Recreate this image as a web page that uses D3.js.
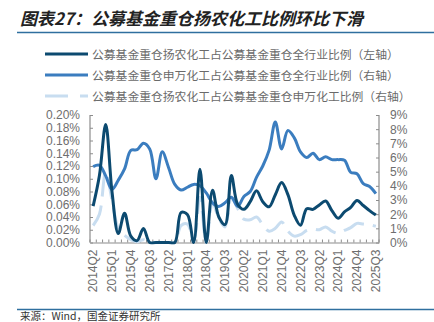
<!DOCTYPE html>
<html><head><meta charset="utf-8">
<script src="https://cdn.jsdelivr.net/npm/d3@7"></script>
<style>
html,body{margin:0;padding:0;background:#fff;}
svg{display:block;}
</style>
</head><body>
<svg id="c" width="434" height="322"></svg>
<script>
const quarters = [];
for (let y = 2014; y <= 2025; y++) for (let q = 1; q <= 4; q++) {
  if (y === 2014 && q < 2) continue;
  if (y === 2025 && q > 3) continue;
  quarters.push(y + "Q" + q);
}
const tickLabels = ["2014Q2","2015Q1","2015Q4","2016Q3","2017Q2","2018Q1","2018Q4","2019Q3","2020Q2","2021Q1","2021Q4","2022Q3","2023Q2","2024Q1","2024Q4","2025Q3"];
// 扬农化工占公募基金重仓全行业比例（左轴, %）
const yangnongAll = [0.057,0.105,0.185,0.080,0.014,0.046,0.010,0.003,0.022,0,0,0,0,0,0.047,0.044,0,0.115,0,0.082,0.040,0.028,0.105,0.060,0.052,0.064,0.081,0.064,0.056,0.075,0.094,0.075,0.043,0.027,0.053,0.052,0.059,0.065,0.050,0.038,0.048,0.055,0.066,0.058,0.050,0.043];
// 申万化工占公募基金重仓全行业比例（右轴, %）
const chemAll = [5.35,5.45,4.7,3.75,4.4,5.2,6.5,6.55,7.0,6.6,4.5,6.4,5.3,4.1,3.7,3.9,4.1,4.0,3.5,2.8,2.55,2.8,3.2,2.55,3.25,3.6,4.6,5.4,6.5,8.5,6.6,7.9,7.4,6.4,6.0,6.3,5.85,6.05,5.85,5.85,5.8,4.95,4.85,4.15,3.95,3.45];
// 扬农化工占公募基金重仓申万化工比例（右轴, %）
const yangnongChem = [1.2,2.0,5.0,3.0,1.0,0.5,0.2,0.05,0.2,0,0,0,0,0,1.2,1.3,0.1,3.2,0,2.8,1.7,1.1,3.2,2.4,1.65,1.6,1.8,1.25,0.8,1.0,1.45,0.8,0.45,0.55,0.85,0.95,0.9,1.1,0.8,0.65,0.85,1.05,1.35,1.3,1.25,1.15];
const leftTicks = [0,0.02,0.04,0.06,0.08,0.10,0.12,0.14,0.16,0.18,0.20];
const rightTicks = [0,1,2,3,4,5,6,7,8,9];
const legendNames = ["公募基金重仓扬农化工占公募基金重仓全行业比例（左轴）","公募基金重仓申万化工占公募基金重仓全行业比例（右轴）","公募基金重仓扬农化工占公募基金重仓申万化工比例（右轴）"];
const colors = ["#0c4a70","#3b7dbf","#c8ddf0"];

const svg = d3.select("#c");
const L = 90, R = 379, T = 115, B = 242.5;
const x = d3.scaleBand().domain(quarters).range([L, R]);
const xc = d => x(d) + x.bandwidth()/2;
const yl = d3.scaleLinear().domain([0,0.20]).range([B,T]);
const yr = d3.scaleLinear().domain([0,9]).range([B,T]);
const axisCol = "#8c8c8c", txtCol = "#6e6e6e";
const latin = "Arial, 'Liberation Sans', sans-serif";
const cjk = "'Noto Sans CJK SC', sans-serif";

// Title
svg.append("text").attr("x",20).attr("y",25).attr("font-family",cjk)
  .attr("font-size",17).attr("font-weight","bold").attr("font-style","italic").attr("fill","#222")
  .text("图表27：公募基金重仓扬农化工比例环比下滑");
svg.append("line").attr("x1",17).attr("x2",434).attr("y1",32.5).attr("y2",32.5).attr("stroke","#2f6f9f").attr("stroke-width",1.5);
svg.append("line").attr("x1",17).attr("x2",434).attr("y1",309.5).attr("y2",309.5).attr("stroke","#2f6f9f").attr("stroke-width",1.5);
svg.append("text").attr("x",20).attr("y",319.5).attr("font-family",cjk).attr("font-size",10.5).attr("fill","#333").text("来源：Wind，国金证券研究所");

// Legend
const legY = [54,75,96];
legendNames.forEach((n,i)=>{
  const g = svg.append("g");
  const ln = g.append("line").attr("x1",45).attr("x2",88).attr("y1",legY[i]).attr("y2",legY[i])
    .attr("stroke",colors[i]).attr("stroke-width",3);
  if (i===2) ln.attr("stroke-dasharray","23,12");
  g.append("text").attr("x",92).attr("y",legY[i]+4.5).attr("font-family",cjk).attr("font-size",11.8)
    .attr("fill","#6a6a6a").text(n);
});

// Axes
const gl = svg.append("g").attr("transform",`translate(${L},0)`)
  .call(d3.axisLeft(yl).tickValues(leftTicks).tickSize(-3).tickPadding(10).tickFormat(d=>d.toFixed(2)+"%"));
const gr = svg.append("g").attr("transform",`translate(${R},0)`)
  .call(d3.axisRight(yr).tickValues(rightTicks).tickSize(-3).tickPadding(11).tickFormat(d=>d+"%"));
const gb = svg.append("g").attr("transform",`translate(0,${B})`)
  .call(d3.axisBottom(x).tickValues(tickLabels).tickSize(0).tickPadding(0));
[gl,gr,gb].forEach(g=>{
  g.select(".domain").attr("stroke",axisCol).attr("stroke-width",1.2);
  g.selectAll(".tick line").attr("stroke",axisCol);
  g.selectAll("text").attr("fill",txtCol).attr("font-family",latin).attr("font-size",12);
});
gl.select(".domain").attr("d",`M0,${T}V${B}`);
gr.select(".domain").attr("d",`M0,${T}V${B}`);
gb.selectAll(".tick text").attr("transform","rotate(-90)").attr("text-anchor","end")
  .attr("x",-7).attr("y",0).attr("dy","0.35em").attr("dx",0)
  .each(function(){ d3.select(this.parentNode).attr("transform", "translate(" + (xc(d3.select(this).datum())) + ",0)"); });
// bottom inward ticks at band boundaries
const bounds = quarters.map(q=>x(q)).concat([R]);
svg.append("g").selectAll("line").data(bounds).join("line")
  .attr("x1",d=>d).attr("x2",d=>d).attr("y1",B).attr("y2",B-3).attr("stroke",axisCol);

// Lines
svg.append("clipPath").attr("id","clip").append("rect").attr("x",L).attr("y",T-5).attr("width",R-L).attr("height",B-T+7);
const plot = svg.append("g").attr("clip-path","url(#clip)");
const mk = (ys, arr) => d3.line().x((d,i)=>xc(quarters[i])).y(d=>ys(d)).curve(d3.curveCatmullRom.alpha(0.5))(arr);
plot.append("path").attr("d",mk(yr,yangnongChem)).attr("fill","none").attr("stroke",colors[2]).attr("stroke-width",3).attr("stroke-dasharray","22,9");
plot.append("path").attr("d",mk(yr,chemAll)).attr("fill","none").attr("stroke",colors[1]).attr("stroke-width",3);
plot.append("path").attr("d",mk(yl,yangnongAll)).attr("fill","none").attr("stroke",colors[0]).attr("stroke-width",3);
</script>
</body></html>
